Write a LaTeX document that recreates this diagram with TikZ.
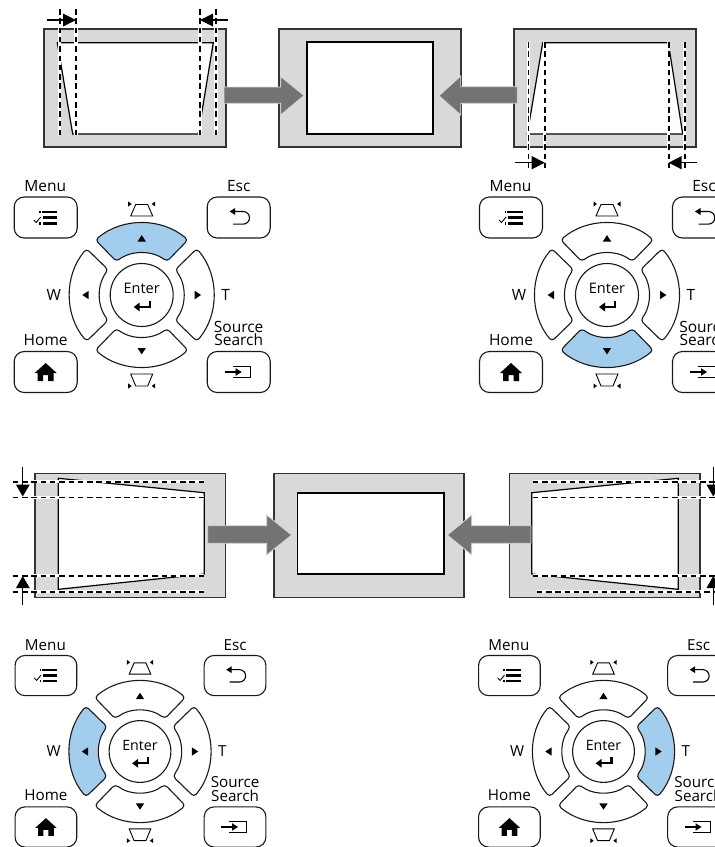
\documentclass[tikz,border=0pt]{standalone}
\usepackage{fontspec}
\setmainfont{Open Sans}
\definecolor{padblue}{HTML}{A2CDEC}
\definecolor{framegray}{HTML}{D9D9D9}
\definecolor{blockgray}{HTML}{737373}
\definecolor{framedark}{HTML}{333333}
\tikzset{
  lab/.style={inner sep=0pt,font=\fontsize{15.5}{15.5}\selectfont,text=black},
  btn/.style={draw=black!90,line width=1.1pt,fill=white,rounded corners=10pt},
  padshape/.style={draw=black!90,line width=1.1pt,rounded corners=3.5pt},
  frameb/.style={draw=framedark,line width=1.2pt,fill=framegray},
  screen/.style={draw=black,line width=1.2pt,fill=white},
  wline/.style={draw=white,line width=3.4pt},
  bdash/.style={draw=black,line width=1.6pt,dash pattern=on 5.5pt off 3.8pt},
  blockar/.style={fill=blockgray,draw=white!85!black,line width=0.8pt},
  thinl/.style={draw=black,line width=1.3pt},
  headb/.style={fill=black}
}
% dashed guide with a white halo
\newcommand{\guide}[4]{\draw[wline] (#1,#2) -- (#3,#4); \draw[bdash] (#1,#2) -- (#3,#4);}
% one small triangle: centre, rotation
\newcommand{\smalltri}[3]{\fill[black,shift={(#1,#2)},rotate=#3] (-4.2,-3) -- (4.2,-3) -- (0,3.4) -- cycle;}
% keypad: id, x, y, scale, colours of up, down, left, right
\newcommand{\keypad}[8]{%
\begin{scope}[shift={(#2,#3)},scale=#4,y=1pt,transform shape]
  \foreach \ang/\col in {0/#5,180/#6,90/#7,270/#8}{
    \draw[padshape,fill=\col,rotate=\ang] (50:72) arc[start angle=50,end angle=130,radius=72]
      -- (127:42) arc[start angle=127,end angle=53,radius=42] -- cycle;
  }
  \draw[black!90,line width=1.1pt,fill=white] (0,0) circle[radius=31.5];
  \node[lab,font=\fontsize{14.5}{14.5}\selectfont] (#1enter) at (0,6.5) {Enter};
  % enter arrow
  \draw[black,line width=2.4pt] (8,-6) -- (8,-12) -- (-3,-12);
  \fill[black] (-8,-12) -- (-2,-7.5) -- (-2,-16.5) -- cycle;
  \smalltri{0}{56.5}{0}
  \smalltri{0}{-56}{180}
  \smalltri{-56}{0}{90}
  \smalltri{56}{0}{-90}
  % keystone icons
  \draw[black,line width=0.9pt] (-6,90.5) -- (6,90.5) -- (11,79) -- (-11,79) -- cycle;
  \fill[black] (-10,91) -- (-13.5,93.5) -- (-13.5,88.5) -- cycle;
  \fill[black] (10,91) -- (13.5,93.5) -- (13.5,88.5) -- cycle;
  \draw[black,line width=0.9pt] (-11,-79) -- (11,-79) -- (6,-91) -- (-6,-91) -- cycle;
  \fill[black] (-10,-91) -- (-13.5,-93.5) -- (-13.5,-88.5) -- cycle;
  \fill[black] (10,-91) -- (13.5,-93.5) -- (13.5,-88.5) -- cycle;
  % buttons
  \node[btn,minimum width=63pt,minimum height=41pt,inner sep=0pt] (#1menubtn) at (-96,77.5) {};
  \node[btn,minimum width=63pt,minimum height=41pt,inner sep=0pt] (#1escbtn) at (97,77.5) {};
  \node[btn,minimum width=63pt,minimum height=41pt,inner sep=0pt] (#1homebtn) at (-96,-77) {};
  \node[btn,minimum width=63pt,minimum height=41pt,inner sep=0pt] (#1srcbtn) at (97,-77) {};
  % menu icon
  \begin{scope}[shift={(-96,77.5)}]
    \fill[black] (-4,7) rectangle (11.7,4.6);
    \fill[black] (-3,1.2) rectangle (11.7,-1.2);
    \fill[black] (-3,-4.6) rectangle (11.7,-7);
    \draw[black,line width=0.9pt] (-12,-2.5) -- (-9.5,-5) -- (-5,0.5);
    \fill[black] (-6.5,7) rectangle (-5,4.6);
    \fill[black] (-6.5,-4.6) rectangle (-5,-7);
  \end{scope}
  % esc icon
  \begin{scope}[shift={(97,77.5)}]
    \draw[black,line width=1.1pt] (-5,6) -- (4.5,6) arc[start angle=90,end angle=-90,radius=6.3] -- (-5.5,-6.6);
    \fill[black] (-9,6) -- (-3.5,9.5) -- (-3.5,2.5) -- cycle;
  \end{scope}
  % home icon
  \begin{scope}[shift={(-96,-77)}]
    \fill[black] (0,9) -- (-11,-1) -- (-8,-1) -- (-8,-9) -- (-2.5,-9) -- (-2.5,-3) -- (2.5,-3) -- (2.5,-9) -- (8,-9) -- (8,-1) -- (11,-1) -- cycle;
  \end{scope}
  % source icon
  \begin{scope}[shift={(97,-77)}]
    \draw[black,line width=1.1pt] (-6,5.5) -- (12,5.5) -- (12,-5.5) -- (-6,-5.5);
    \draw[black,line width=1.1pt] (-14,0) -- (0,0);
    \fill[black] (3,0) -- (-3,3.8) -- (-3,-3.8) -- cycle;
  \end{scope}
  % labels
  \node[lab] (#1menu) at (-96.5,109) {Menu};
  \node[lab] (#1esc) at (97,109) {Esc};
  \node[lab] (#1w) at (-88,0) {W};
  \node[lab] (#1t) at (84,0) {T};
  \node[lab] (#1home) at (-96,-45) {Home};
  \node[lab] (#1source) at (97,-31.5) {Source};
  \node[lab] (#1search) at (97,-45) {Search};
\end{scope}}
\begin{document}
\begin{tikzpicture}[x=1pt,y=-1pt]
\clip (0,0) rectangle (715,847);
\fill[white] (0,0) rectangle (715,847);

% ---------- top row frames
\path[frameb] (44,29) rectangle (226,147);
\path[frameb] (279,29) rectangle (461,147);
\path[frameb] (514,29) rectangle (696,147);
\path[screen] (57.3,42.7) -- (213.3,42.7) -- (198.3,134) -- (72.7,134) -- cycle;
\path[screen] (307,42) rectangle (433,134);
\path[screen] (542.7,42.7) -- (668.3,42.7) -- (682.7,134) -- (527.3,134) -- cycle;
\guide{59.7}{9}{59.7}{135}
\guide{76}{9}{76}{135}
\guide{200}{9}{200}{135}
\guide{216}{9}{216}{135}
\guide{528.3}{42}{528.3}{171.5}
\guide{544.7}{42}{544.7}{171.5}
\guide{668.7}{42}{668.7}{171.5}
\guide{684.7}{42}{684.7}{171.5}
\draw[thinl] (46.7,20) -- (66,20);
\fill[headb] (76,20) -- (63,13.5) -- (63,26.5) -- cycle;
\draw[thinl] (228,20) -- (210,20);
\fill[headb] (200,20) -- (213,13.5) -- (213,26.5) -- cycle;
\draw[thinl] (515,162.7) -- (534,162.7);
\fill[headb] (544.7,162.7) -- (531.7,156) -- (531.7,169.4) -- cycle;
\draw[thinl] (696.7,162.7) -- (678,162.7);
\fill[headb] (668.7,162.7) -- (681.7,156) -- (681.7,169.4) -- cycle;
\path[blockar] (224,87) -- (280.7,87) -- (280.7,76.5) -- (304,95.5) -- (280.7,115) -- (280.7,103.3) -- (224,103.3) -- cycle;
\path[blockar] (517.3,86.7) -- (460.7,86.7) -- (460.7,76) -- (439,95.7) -- (460.7,115) -- (460.7,103.3) -- (517.3,103.3) -- cycle;

% ---------- bottom row frames
\path[frameb] (35,473.3) rectangle (225.3,597.3);
\path[frameb] (274,473.3) rectangle (464,597.3);
\path[frameb] (509.3,473.3) rectangle (700,597.3);
\path[screen] (58.3,478.3) -- (204.3,492.7) -- (204.3,574) -- (58.3,589.3) -- cycle;
\path[screen] (297.7,493) rectangle (444,574);
\path[screen] (531.7,492.7) -- (678.3,478.3) -- (678.3,589.3) -- (531.7,574) -- cycle;
\guide{12.7}{481.7}{204}{481.7}
\guide{12.7}{497.3}{204}{497.3}
\guide{12.7}{575.7}{204}{575.7}
\guide{12.7}{591.7}{204}{591.7}
\guide{532.7}{481.7}{715}{481.7}
\guide{532.7}{497.3}{715}{497.3}
\guide{532.7}{575.7}{715}{575.7}
\guide{536.7}{591.7}{715}{591.7}
\draw[thinl] (22.7,467.3) -- (22.7,487);
\fill[headb] (22.7,496.5) -- (16,484.7) -- (29.7,484.7) -- cycle;
\draw[thinl] (22.7,605) -- (22.7,586);
\fill[headb] (22.7,576) -- (16,588) -- (29.7,588) -- cycle;
\draw[thinl] (713.3,467.3) -- (713.3,487);
\fill[headb] (713.3,496.5) -- (706.5,484.7) -- (720,484.7) -- cycle;
\draw[thinl] (713.3,605) -- (713.3,586);
\fill[headb] (713.3,576) -- (706.5,588) -- (720,588) -- cycle;
\path[blockar] (207.7,525.7) -- (266.7,525.7) -- (266.7,515) -- (291.7,535) -- (266.7,555) -- (266.7,543.3) -- (207.7,543.3) -- cycle;
\path[blockar] (531,525.7) -- (471.7,525.7) -- (471.7,515) -- (447.3,535) -- (471.7,555) -- (471.7,543.3) -- (531,543.3) -- cycle;

% ---------- keypads
\keypad{a}{141.7}{295}{1}{padblue}{white}{white}{white}
\keypad{b}{607}{295}{1}{white}{padblue}{white}{white}
\keypad{c}{140}{751.5}{0.98}{white}{white}{padblue}{white}
\keypad{d}{603.5}{751.5}{0.98}{white}{white}{white}{padblue}
\end{tikzpicture}
\end{document}
